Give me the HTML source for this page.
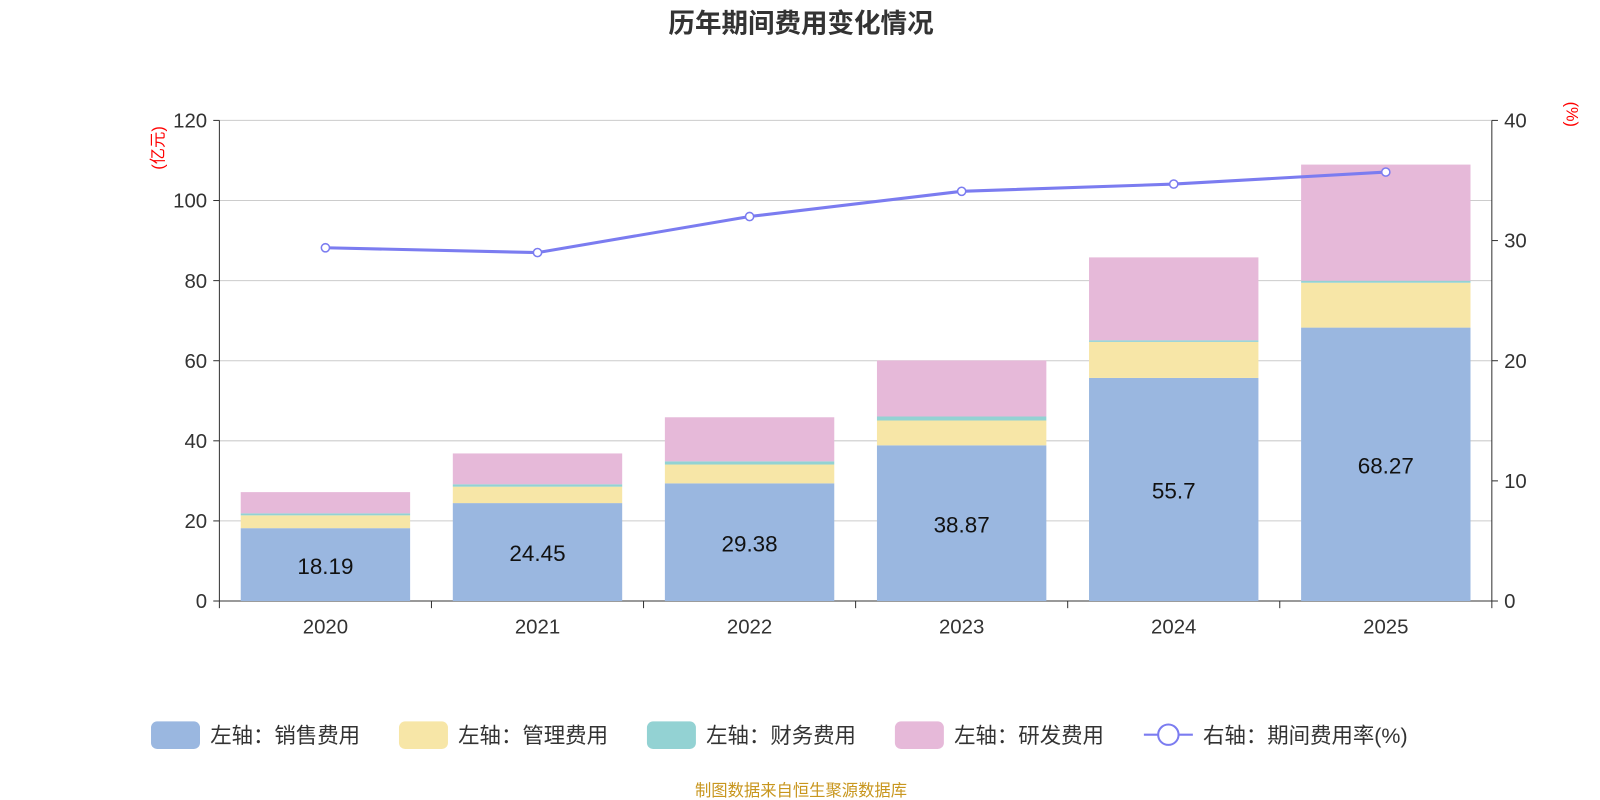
<!DOCTYPE html>
<html><head><meta charset="utf-8">
<style>
body{margin:0;background:#fff;}
svg{display:block;}
svg text{font-family:"Liberation Sans","Noto Sans CJK SC",sans-serif;}
</style></head>
<body>
<svg id="chart" width="1600" height="800" viewBox="0 0 1568 784" xmlns="http://www.w3.org/2000/svg">
<text x="785" y="32" text-anchor="middle" font-size="26" font-weight="bold" fill="#333">历年期间费用变化情况</text>
<text x="785" y="780" text-anchor="middle" font-size="16" fill="#c8961e">制图数据来自恒生聚源数据库</text>
<g id="grid"></g><g id="bars"></g><g id="axes"></g><g id="line"></g><g id="legend"></g>
</svg>
<script>
const years=["2020","2021","2022","2023","2024","2025"];
const sales=[18.19,24.45,29.38,38.87,55.7,68.27];
const mgmt=[3.2,4.1,4.7,6.2,9.0,11.2];
const fin=[0.5,0.6,0.8,1.0,0.4,0.5];
const rd=[5.3,7.7,11.0,14.0,20.7,29.0];
const rate=[29.4,29.0,32.0,34.1,34.7,35.7];
const leftTicks=[0,20,40,60,80,100,120];
const rightTicks=[0,10,20,30,40];

const NS="http://www.w3.org/2000/svg";
const X0=215,X1=1462,Y0=589,Y1=118;
const yL=v=>Y0-(Y0-Y1)*v/120;
const yR=v=>Y0-(Y0-Y1)*v/40;
const bw=(X1-X0)/years.length;
const xc=i=>X0+bw*(i+0.5);
function mk(tag,attrs,parent,text){const e=document.createElementNS(NS,tag);for(const k in attrs)e.setAttribute(k,attrs[k]);if(text!==undefined)e.textContent=text;document.getElementById(parent).appendChild(e);return e;}

leftTicks.forEach(t=>{
  const g=mk('line',{x1:X0,x2:X1,y1:yL(t),y2:yL(t),stroke:t===0?'#333':'#ccc','stroke-width':1},'grid');
  
  
  const l=mk('text',{x:X0-12,y:yL(t)+7,'text-anchor':'end','font-size':20,fill:'#333'},'axes',t);
  
  
  mk('line',{x1:X0-6,x2:X0,y1:yL(t),y2:yL(t),stroke:'#333'},'axes');
});
rightTicks.forEach(t=>{
  const l=mk('text',{x:X1+12,y:yR(t)+7,'font-size':20,fill:'#333'},'axes',t);
  
  
  mk('line',{x1:X1,x2:X1+6,y1:yR(t),y2:yR(t),stroke:'#333'},'axes');
});
mk('line',{x1:X0,x2:X0,y1:Y1,y2:Y0,stroke:'#333'},'axes');
mk('line',{x1:X1,x2:X1,y1:Y1,y2:Y0,stroke:'#333'},'axes');
for(let i=0;i<=years.length;i++)mk('line',{x1:X0+bw*i,x2:X0+bw*i,y1:Y0,y2:Y0+7,stroke:'#333'},'axes');
const ut=mk('text',{x:160,y:145,'font-size':16,fill:'red',transform:'rotate(-90 160 145)','text-anchor':'middle'},'axes','(亿元)');


const ur=mk('text',{x:1535,y:112,'font-size':16,fill:'red',transform:'rotate(90 1535 112)','text-anchor':'middle'},'axes','(%)');



const series=[[sales,'#9ab7e0','sales'],[mgmt,'#f7e6a7','mgmt'],[fin,'#93d2d3','finance'],[rd,'#e6b9d9','rd']];
years.forEach((y,i)=>{
  const xl=mk('text',{x:xc(i),y:621,'text-anchor':'middle','font-size':20,fill:'#333'},'axes',y);
  
  
  let acc=0;
  series.forEach(([arr,col,nm])=>{
    const r=mk('rect',{x:xc(i)-83,width:166,y:yL(acc+arr[i]),height:yL(acc)-yL(acc+arr[i]),fill:col},'bars');
    
    
    acc+=arr[i];
  });
  const vl=mk('text',{x:xc(i),y:yL(sales[i]/2)+9,'text-anchor':'middle','font-size':22,fill:'#111'},'bars',sales[i]);
  
  
});
const pl=mk('polyline',{points:rate.map((v,i)=>xc(i)+','+yR(v)).join(' '),fill:'none',stroke:'#7b7cf0','stroke-width':3},'line');


rate.forEach((v,i)=>{
  const c=mk('circle',{cx:xc(i),cy:yR(v),r:4,fill:'#fff',stroke:'#7b7cf0','stroke-width':1.5},'line');
  
  
});

const leg=[['左轴：销售费用','#9ab7e0',148],['左轴：管理费用','#f7e6a7',391],['左轴：财务费用','#93d2d3',634],['左轴：研发费用','#e6b9d9',877]];
leg.forEach(([t,c,x])=>{
  const r=mk('rect',{x:x,y:707,width:48,height:27,rx:6,fill:c},'legend');
  
  
  const tx=mk('text',{x:x+58,y:728,'font-size':21,fill:'#333'},'legend',t);
  
  
});
mk('line',{x1:1121,x2:1169,y1:720,y2:720,stroke:'#7b7cf0','stroke-width':2},'legend');
mk('circle',{cx:1145,cy:720,r:10,fill:'#fff',stroke:'#7b7cf0','stroke-width':2},'legend');
const lt=mk('text',{x:1179,y:728,'font-size':21,fill:'#333'},'legend','右轴：期间费用率(%)');


</script>
</body></html>
